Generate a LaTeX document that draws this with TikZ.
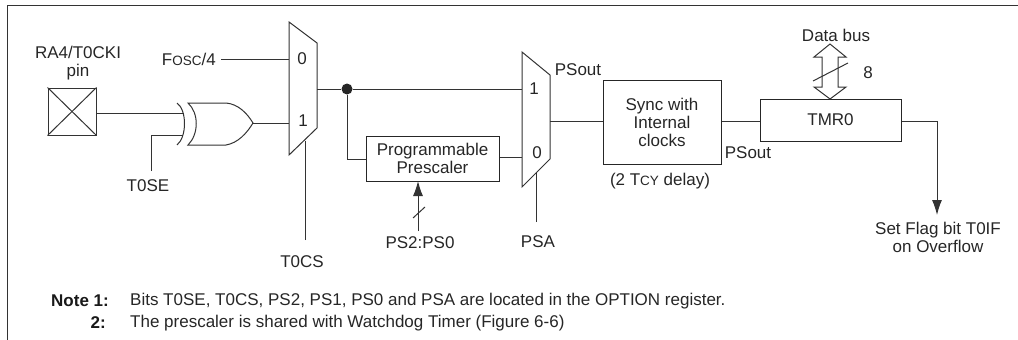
\documentclass[tikz,border=0pt]{standalone}
\usepackage{fontspec}
\setmainfont{Liberation Sans}
\usetikzlibrary{arrows.meta}
\newcommand{\lowcaps}[1]{{\fontsize{13.5}{15}\selectfont #1}}
\tikzset{
	wire/.style={line width=1pt, color=black!80},
	box/.style={draw=black!80, line width=1pt, inner sep=0pt},
	lbl/.style={inner sep=0pt, color=black!85, align=center, font=\fontsize{17}{18}\selectfont},
	notehead/.style={inner sep=0pt, color=black!90, anchor=east, font=\fontsize{17}{18}\selectfont\bfseries},
	tip/.style={-{Latex[length=15pt,width=10pt]}},
}

\begin{document}
\begin{tikzpicture}[x=1pt, y=-1pt]
		%%%%% START %%%%%
		\useasboundingbox (0, 0) rectangle (1018, 340);
		
		\coordinate (frameA) at (7, 340);
		\coordinate (frameB) at (7, 5);
		\coordinate (frameC) at (1018, 5);
		\draw[wire] (frameA) -- (frameB) -- (frameC);
		
		\node[box, minimum width=48pt, minimum height=47pt] (pin) at (72, 111.5) {};
		\draw[wire] (pin.north west) -- (pin.south east);
		\draw[wire] (pin.north east) -- (pin.south west);
		\node[lbl] (pinname) at (78, 63.5) {RA4/T0CKI\\pin};
		
		% xor gate
		\coordinate (xorA) at (184, 113);
		\coordinate (xorB) at (183, 135);
		\coordinate (xorout) at (253, 123);
		\coordinate (back1) at (177, 103);
		\coordinate (back2) at (177, 145);
		\draw[wire] (back1) .. controls (187, 110) and (187, 137) .. (back2);
		\draw[wire] (188, 103) -- (226, 103) .. controls (238, 104) and (247, 113) .. (xorout)
			.. controls (247, 133) and (238, 143) .. (226, 145) -- (188, 145)
			.. controls (199, 134) and (199, 113) .. cycle;
		
		\draw[wire] (pin.east |- xorA) -- (xorA);
		\node[lbl] (tose) at (148, 186) {T0SE};
		\coordinate (bend1) at (151, 135);
		\draw[wire] (151, 171) -- (bend1) -- (xorB);
		
		% first mux
		\draw[wire] (289, 22) coordinate (muxA) -- (317, 43) -- (317, 128) -- (289, 155) -- cycle;
		\node[lbl] (muxAzero) at (302, 59) {0};
		\node[lbl] (muxAone) at (303, 121) {1};
		\node[lbl, anchor=east] (fosc) at (216, 59) {F\lowcaps{OSC}/4};
		\coordinate (muxAin0) at (289, 59);
		\coordinate (muxAin1) at (289, 123);
		\draw[wire] (221, 59) -- (muxAin0);
		\draw[wire] (xorout) -- (muxAin1);
		\node[lbl] (tocs) at (302, 262) {T0CS};
		\draw[wire] (305, 240) -- (305, 141);
		
		% prescaler
		\node[fill=black!85, circle, inner sep=0pt, minimum size=11pt] (dot) at (347, 89) {};
		\node[box, lbl, minimum width=133pt, minimum height=45pt] (presc) at (432.5, 158.5) {Programmable\\Prescaler};
		\coordinate (bend2) at (347, 159);
		\draw[wire] (317, 89) -- (dot);
		\draw[wire] (dot) -- (bend2) -- (presc.west |- bend2);
		\node[lbl] (pssel) at (420, 243) {PS2:PS0};
		\coordinate (psselup) at (418, 231);
		\draw[wire, tip] (psselup) -- (418, 181);
		\draw[wire] (413, 218) -- (425, 207);
		
		% second mux
		\draw[wire] (522, 52) coordinate (muxB) -- (550, 75) -- (550, 159) -- (522, 187) -- cycle;
		\node[lbl] (muxBone) at (534, 89) {1};
		\node[lbl] (muxBzero) at (537, 153) {0};
		\draw[wire] (dot) -- (muxB |- dot);
		\draw[wire] (presc.east |- 0, 157) -- (522, 157);
		\node[lbl] (psoutA) at (578, 70) {PSout};
		\node[lbl] (psa) at (538, 242) {PSA};
		\draw[wire] (536, 222) -- (536, 173);
		
		% sync and timer
		\node[box, lbl, minimum width=118pt, minimum height=84pt] (sync) at (662, 122) {Sync with\\Internal\\clocks};
		\node[lbl] (delay) at (660, 181) {(2 T\lowcaps{CY} delay)};
		\node[lbl] (psoutB) at (748, 153) {PSout};
		\node[box, lbl, minimum width=141pt, minimum height=42pt] (tmr) at (830.5, 120) {TMR0};
		\draw[wire] (550, 121) -- (sync.west |- 0, 121);
		\draw[wire] (sync.east |- 0, 121) -- (tmr.west |- 0, 121);
		
		% data bus
		\node[lbl] (bus) at (836, 35) {Data bus};
		\node[lbl] (width) at (868, 73) {8};
		\draw[wire] (830, 44) -- (846, 57) -- (838, 57) -- (838, 87) -- (846, 87) -- (830, 99)
			-- (814, 87) -- (822, 87) -- (822, 57) -- (814, 57) -- cycle;
		\draw[wire] (813, 81) -- (848, 63);
		
		% flag output
		\coordinate (bend3) at (937, 121);
		\node[lbl] (flag) at (938, 237.5) {Set Flag bit T0IF\\on Overflow};
		\draw[wire] (tmr.east |- bend3) -- (bend3);
		\draw[wire, tip] (bend3) -- (937, 215);
		
		% notes
		\node[notehead] (noteA) at (109, 301) {Note 1:};
		\node[lbl, anchor=west] (noteAtext) at (130, 301) {Bits T0SE, T0CS, PS2, PS1, PS0 and PSA are located in the OPTION register.};
		\node[notehead] (noteB) at (106, 323) {2:};
		\node[lbl, anchor=west] (noteBtext) at (130, 323) {The prescaler is shared with Watchdog Timer (Figure 6-6)};
		%%%%% END %%%%%
	\end{tikzpicture}
\end{document}
